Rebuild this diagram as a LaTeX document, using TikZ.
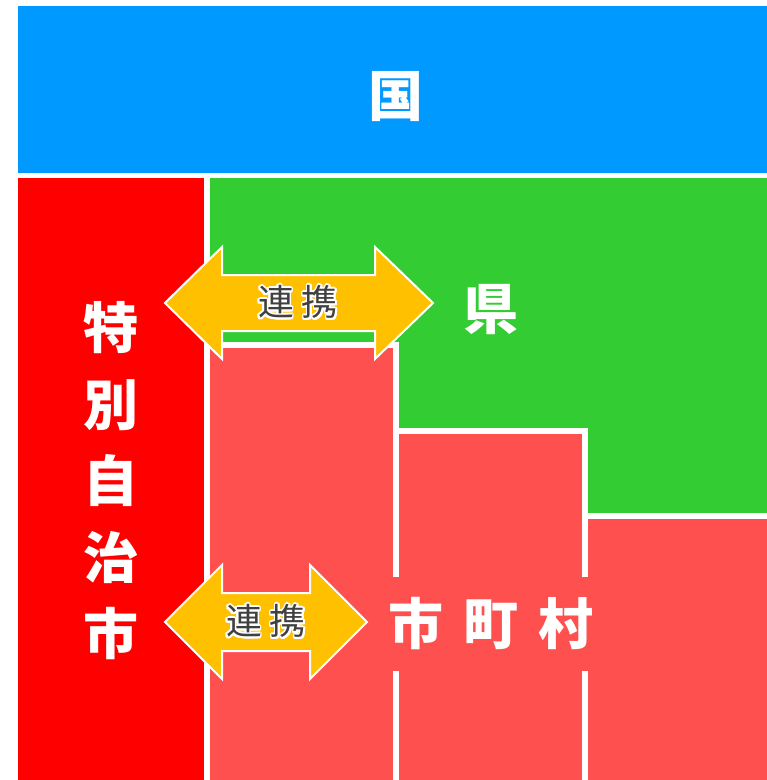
\documentclass[tikz,border=0pt]{standalone}
\usepackage{fontspec}
\newfontfamily\jp{Noto Sans CJK JP}
\usepackage{contour}
\contourlength{1.8pt}
\definecolor{ckuni}{HTML}{0099FF}
\definecolor{ctoku}{HTML}{FF0000}
\definecolor{cken}{HTML}{33CC33}
\definecolor{cshi}{HTML}{FF5050}
\definecolor{cyaji}{HTML}{FFC000}
\definecolor{cmoji}{HTML}{404040}
\begin{document}
\begin{tikzpicture}[x=1pt,y=-1pt,
  area/.style={draw=white, line width=6pt, fill=cshi},
  big/.style={text=white, inner sep=0pt, font=\jp\bfseries\fontsize{55}{76.5}\selectfont},
  yaji/.style={fill=cyaji, draw=white, line width=2pt, line join=miter},
  small/.style={text=cmoji, inner sep=0pt, font=\jp\fontsize{36}{36}\selectfont}]
\useasboundingbox (0,0) rectangle (767,780);
\fill[white] (0,0) rectangle (767,780);
\fill[ckuni] (18,6) rectangle (767,173);
\fill[ctoku] (18,178) rectangle (204,780);
\fill[cken] (210,178) rectangle (767,780);
\draw[area] (207,345) rectangle (396,790);
\draw[area] (396,431) rectangle (585,790);
\draw[area] (585,516) rectangle (775,790);
\draw[yaji] (165,303) -- (222,247) -- (222,275) -- (375,275) -- (375,247) -- (433,303)
  -- (375,359) -- (375,331) -- (222,331) -- (222,359) -- cycle;
\draw[yaji] (165,622) -- (222,565) -- (222,593) -- (310,593) -- (310,565) -- (367,622)
  -- (310,679) -- (310,651) -- (222,651) -- (222,679) -- cycle;
\node[small] (renkei1) at (298,303) {\contour{white}{連\hspace{8pt}携}};
\node[small] (renkei2) at (266,622) {\contour{white}{連\hspace{8pt}携}};
\node[big] (kuni) at (396,97) {国};
\node[big] (ken) at (491,310) {県};
\node[big, align=center] (toku) at (111,481) {特\\別\\自\\治\\市};
\node[big, fill=cshi, minimum height=94, inner xsep=12pt] (shi) at (491,624)
  {市\hspace{20pt}町\hspace{20pt}村};
\end{tikzpicture}
\end{document}
